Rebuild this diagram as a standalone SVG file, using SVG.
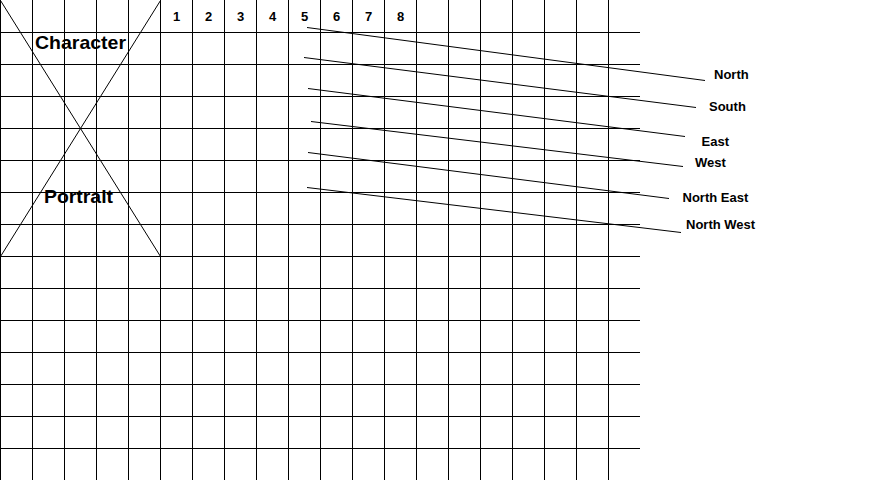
<svg xmlns="http://www.w3.org/2000/svg" width="888" height="480" viewBox="0 0 888 480">
<style>
.g{stroke:#000;stroke-width:1;shape-rendering:crispEdges;fill:none}
.d{stroke:#000;stroke-width:1;fill:none}
.t{font-family:"Liberation Sans",Arial,sans-serif;font-weight:bold;fill:#000}
.n{font-size:13px;text-anchor:middle}
.l{font-size:13px}
.big{font-size:19px}
</style>
<rect width="888" height="480" fill="#fff"/>
<g id="grid" class="g">
<path d="M0.5 0V480M32.5 0V480M64.5 0V480M96.5 0V480M128.5 0V480M160.5 0V480M192.5 0V480M224.5 0V480M256.5 0V480M288.5 0V480M320.5 0V480M352.5 0V480M384.5 0V480M416.5 0V480M448.5 0V480M480.5 0V480M512.5 0V480M544.5 0V480M576.5 0V480M608.5 0V480"/>
<path d="M0 32.5H640M0 64.5H640M0 96.5H640M0 128.5H640M0 160.5H640M0 192.5H640M0 224.5H640M0 256.5H640M0 288.5H640M0 320.5H640M0 352.5H640M0 384.5H640M0 416.5H640M0 448.5H640"/>
</g>
<g id="portrait">
<path class="d" d="M0.5 0.5L160.5 256.5M160.5 0.5L0.5 256.5"/>
<text class="t big" x="35" y="49" textLength="91" lengthAdjust="spacingAndGlyphs">Character</text>
<text class="t big" x="44" y="203" textLength="69" lengthAdjust="spacingAndGlyphs">Portrait</text>
</g>
<g id="numbers" class="t n">
<text x="176.5" y="21">1</text>
<text x="208.5" y="21">2</text>
<text x="240.5" y="21">3</text>
<text x="272.5" y="21">4</text>
<text x="304.5" y="21">5</text>
<text x="336.5" y="21">6</text>
<text x="368.5" y="21">7</text>
<text x="400.5" y="21">8</text>
</g>
<g id="connectors" class="d">
<line x1="307" y1="27.5" x2="705" y2="80.5"/>
<line x1="304" y1="57.5" x2="696" y2="107.5"/>
<line x1="308" y1="88.5" x2="685" y2="136.5"/>
<line x1="311" y1="121.5" x2="683" y2="166.5"/>
<line x1="308" y1="152.5" x2="669" y2="198.5"/>
<line x1="307" y1="187.5" x2="681" y2="232.5"/>
</g>
<g id="north"><text class="t l" x="714" y="79">North</text></g>
<g id="south"><text class="t l" x="709" y="111">South</text></g>
<g id="east"><text class="t l" x="701.5" y="146">East</text></g>
<g id="west"><text class="t l" x="695" y="167">West</text></g>
<g id="northeast"><text class="t l" x="682.5" y="202">North East</text></g>
<g id="northwest"><text class="t l" x="686" y="229">North West</text></g>
</svg>
